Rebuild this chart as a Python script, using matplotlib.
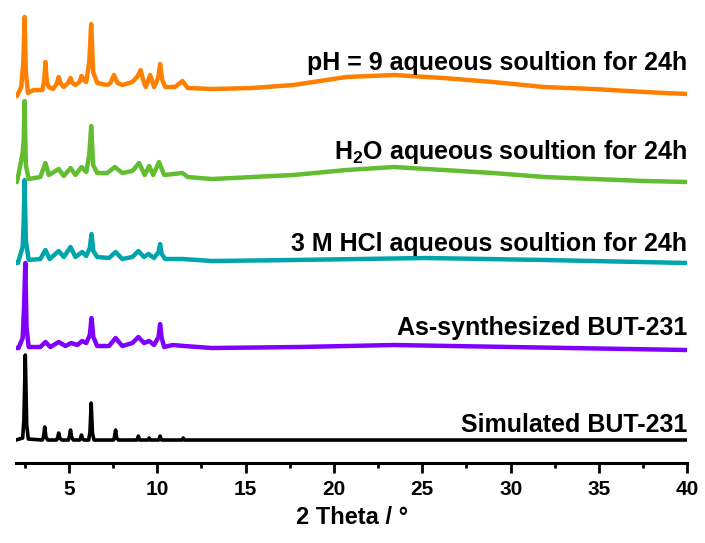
import matplotlib
matplotlib.use("Agg")
import matplotlib.pyplot as plt

plt.rcParams['font.family'] = ['Liberation Sans', 'DejaVu Sans']
plt.rcParams['font.weight'] = 'bold'
plt.rcParams['mathtext.fontset'] = 'custom'
plt.rcParams['mathtext.rm'] = 'Liberation Sans:bold'
plt.rcParams['mathtext.it'] = 'Liberation Sans:bold'
plt.rcParams['mathtext.bf'] = 'Liberation Sans:bold'

# PXRD patterns (2 theta, intensity above each baseline, a.u.)
sim_x = [2.0, 2.38, 2.45, 2.53, 2.61, 2.7, 3.5, 3.57, 3.63, 3.7, 3.8, 4.3, 4.37, 4.42, 4.48,
         4.6, 4.97, 5.03, 5.09, 5.15, 5.25, 5.6, 5.66, 5.71, 5.77, 5.85, 6.12, 6.19, 6.26,
         6.33, 6.42, 7.52, 7.58, 7.64, 7.7, 7.8, 8.85, 8.93, 9.0, 9.47, 9.54, 9.61, 10.08,
         10.16, 10.24, 11.4, 11.47, 11.54, 13.0, 40.0]
sim_y = [0, 2, 20, 85, 15, 1, 0, 4, 13, 3, 0, 0, 3, 7, 2,
         0, 0, 4, 10, 3, 0, 0, 2, 5, 1, 0, 0, 8, 37,
         7, 0, 0, 3, 10, 2, 0, 0, 4, 0, 0, 2, 0, 0,
         4, 0, 0, 2, 0, 0, 0]

as_x = [2.0, 2.15, 2.38, 2.46, 2.53, 2.6, 2.72, 3.38, 3.67, 3.95, 4.42, 4.8, 5.13, 5.47,
        5.75, 5.98, 6.18, 6.28, 6.38, 6.6, 7.27, 7.64, 8.02, 8.59, 8.93, 9.25, 9.54, 9.82,
        10.07, 10.16, 10.25, 10.39, 10.86, 11.53, 13.1, 18.0, 23.4, 30.0, 40.0]
as_y = [-1, -1, 9, 40, 84, 20, 0, 0, 5, 0, 5, 1, 4, 2,
        6, 4, 12, 29, 10, 1, 1, 9, 1, 4, 10, 4, 6, 2,
        10, 23, 9, 0, 2, 1, -1, 0, 2, 0, -3]

hcl_x = [2.0, 2.11, 2.38, 2.44, 2.49, 2.56, 2.72, 3.38, 3.67, 3.91, 4.42, 4.71, 5.09, 5.37,
         5.75, 5.98, 6.18, 6.28, 6.38, 6.6, 7.27, 7.64, 8.02, 8.59, 8.93, 9.25, 9.5, 9.82,
         10.07, 10.16, 10.25, 10.45, 11.43, 13.1, 17.7, 25.2, 32.0, 40.0]
hcl_y = [-3, -3, 13, 40, 80, 20, 0, 1, 10, 1, 9, 3, 13, 3,
         8, 4, 12, 26, 9, 3, 2, 8, 1, 3, 9, 3, 6, 2,
         8, 16, 6, 1, 1, -1, 0, 2, 0, -3]

h2o_x = [2.0, 2.06, 2.38, 2.44, 2.49, 2.56, 2.72, 3.38, 3.67, 3.86, 4.42, 4.71, 5.09, 5.37,
         5.71, 5.98, 6.15, 6.26, 6.37, 6.6, 7.17, 7.6, 8.02, 8.59, 8.97, 9.29, 9.54, 9.77,
         10.1, 10.39, 11.43, 11.72, 13.1, 15.4, 17.7, 20.7, 23.4, 26.2, 29.0, 31.9, 34.7,
         37.6, 40.0]
h2o_y = [-2, -2, 27, 40, 79, 15, 1, 3, 17, 5, 11, 4, 12, 5,
         13, 8, 25, 54, 15, 7, 7, 13, 7, 9, 17, 5, 14, 5,
         18, 5, 7, 3, 1, 3, 5, 10, 13, 10, 7, 3, 1,
         -1, -2]

ph9_x = [2.0, 2.06, 2.3, 2.42, 2.49, 2.56, 2.68, 3.0, 3.5, 3.6, 3.67, 3.75, 3.86, 4.1, 4.3,
         4.42, 4.55, 4.71, 4.95, 5.09, 5.2, 5.37, 5.6, 5.71, 5.85, 5.98, 6.15, 6.26, 6.37,
         6.6, 7.17, 7.35, 7.55, 7.75, 8.02, 8.59, 8.9, 9.06, 9.2, 9.35, 9.6, 9.82, 10.05,
         10.16, 10.28, 10.45, 11.0, 11.43, 11.72, 13.1, 15.4, 17.7, 20.7, 23.4, 26.2, 29.0,
         31.9, 34.7, 37.6, 40.0]
ph9_y = [-4, -4, 5, 30, 75, 20, -1, 2, 2, 12, 30, 10, 5, 3, 8,
         15, 8, 5, 9, 14, 9, 7, 10, 16, 12, 10, 30, 68, 20,
         9, 7, 9, 17, 9, 7, 10, 16, 22, 12, 5, 17, 5, 14,
         28, 12, 5, 5, 11, 4, 3, 4, 7, 15, 17, 14, 10,
         5, 3, 0, -2]

labels = ["Simulated BUT-231", "As-synthesized BUT-231",
          "3 M HCl aqueous soultion for 24h", "H$_2$O aqueous soultion for 24h",
          "pH = 9 aqueous soultion for 24h"]
offsets = [23, 116, 203, 283, 371]
label_y = [31, 128, 212, 304, 393]
colors = ["#000000", "#8000FF", "#00A5AC", "#62BE30", "#FF8000"]
widths = [2.6, 3.2, 3.2, 3.2, 3.2]
xs = [sim_x, as_x, hcl_x, h2o_x, ph9_x]
ys = [sim_y, as_y, hcl_y, h2o_y, ph9_y]

fig = plt.figure(figsize=(7.05, 5.43), dpi=100)
ax = fig.add_axes([0.0226, 0.1473, 0.9523, 0.8527])

for x, y, off, c, w, lab, ly in zip(xs, ys, offsets, colors, widths, labels, label_y):
    ax.plot(x, [v + off for v in y], color=c, lw=w, solid_joinstyle='round')
    ax.text(40, ly, lab, ha='right', va='baseline', fontsize=18, fontweight='bold')

ax.set_xlim(2, 40)
ax.set_ylim(0, 463)
for s in ['left', 'right', 'top']:
    ax.spines[s].set_visible(False)
ax.spines['bottom'].set_linewidth(2.2)
ax.set_yticks([])
ax.set_xticks([5, 10, 15, 20, 25, 30, 35, 40])
ax.set_xticks([2.5, 7.5, 12.5, 17.5, 22.5, 27.5, 32.5, 37.5], minor=True)
ax.tick_params(axis='x', which='major', length=7, width=2, labelsize=15, pad=5)
ax.tick_params(axis='x', which='minor', length=3.6, width=2)
ax.set_xlabel("2 Theta / °", fontsize=17, fontweight='bold', labelpad=5)

fig.savefig("out.png", dpi=100)
